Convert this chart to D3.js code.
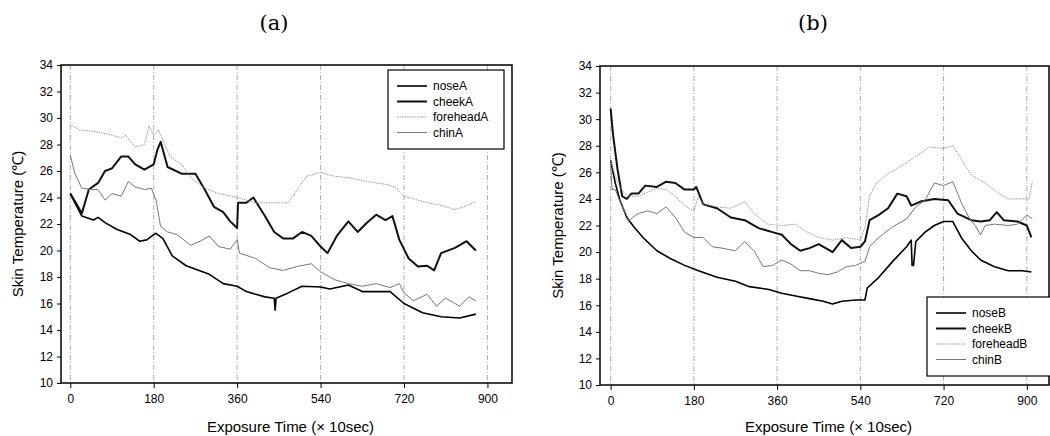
<!DOCTYPE html>
<html>
<head>
<meta charset="utf-8">
<script src="https://cdn.jsdelivr.net/npm/d3@7"></script>
<style>
  body { margin: 0; background: #fff; }
  svg { display: block; }
  text { font-family: "Liberation Sans", Arial, sans-serif; fill: #000; }
</style>
</head>
<body>
<svg id="chart" width="1050" height="436"></svg>
<script>
// ---- data: [time (x10 sec), temperature (C)] ----
var yTicks = [10, 12, 14, 16, 18, 20, 22, 24, 26, 28, 30, 32, 34];
var xTicks = [0, 180, 360, 540, 720, 900];

var noseA = [[0,24.3],[10,23.6],[25,22.6],[50,22.3],[60,22.5],[75,22.1],[100,21.6],[130,21.2],[150,20.7],[165,20.8],[180,21.2],[185,21.3],[200,20.9],[220,19.6],[250,18.85],[300,18.2],[330,17.5],[360,17.3],[380,16.9],[420,16.5],[440,16.4],[442,15.5],[444,16.4],[470,16.8],[500,17.3],[540,17.25],[560,17.1],[600,17.4],[630,16.9],[690,16.9],[720,16.0],[760,15.3],[800,15.0],[840,14.9],[875,15.2]];
var cheekA = [[0,24.3],[12,23.6],[25,22.8],[40,24.6],[60,25.1],[75,26.0],[90,26.2],[110,27.1],[125,27.1],[140,26.5],[160,26.1],[180,26.5],[188,27.6],[195,28.2],[210,26.3],[240,25.8],[270,25.8],[290,24.6],[310,23.3],[330,22.9],[345,22.2],[360,21.7],[362,23.6],[380,23.6],[395,24.0],[420,22.6],[440,21.4],[460,20.9],[480,20.9],[500,21.4],[520,21.1],[540,20.3],[555,19.8],[575,21.1],[600,22.2],[620,21.4],[640,22.1],[660,22.7],[680,22.3],[695,22.6],[710,20.8],[730,19.4],[750,18.8],[770,18.85],[785,18.5],[800,19.8],[830,20.2],[855,20.7],[875,20.0]];
var foreheadA = [[0,29.5],[20,29.1],[50,29.0],[80,28.8],[110,28.5],[120,28.7],[140,27.8],[160,28.0],[170,29.4],[180,28.7],[190,29.1],[200,28.3],[215,27.1],[240,26.5],[260,25.5],[290,24.7],[320,24.3],[360,24.0],[400,23.6],[440,23.6],[470,23.6],[490,24.6],[510,25.6],[540,25.9],[570,25.6],[600,25.5],[640,25.2],[680,25.0],[700,24.8],[720,24.1],[760,23.7],[800,23.4],[830,23.1],[850,23.3],[875,23.7]];
var chinA = [[0,27.2],[10,25.8],[25,24.7],[45,24.6],[60,24.6],[75,23.8],[90,24.3],[110,24.1],[125,25.2],[140,24.8],[160,24.6],[175,24.7],[185,23.8],[195,21.8],[210,21.4],[230,21.2],[260,20.4],[280,20.7],[300,21.1],[320,20.3],[345,20.1],[360,20.8],[365,19.8],[400,19.4],[430,18.7],[460,18.5],[490,18.8],[520,19.0],[540,18.4],[570,17.8],[600,17.5],[630,17.3],[660,17.5],[690,17.2],[710,17.5],[720,16.8],[740,16.2],[770,16.7],[790,15.8],[810,16.4],[840,15.8],[860,16.5],[875,16.2]];

var noseB = [[0,26.9],[10,25.2],[20,23.9],[35,22.6],[50,21.9],[70,21.1],[100,20.1],[130,19.5],[160,19.0],[190,18.6],[230,18.1],[270,17.8],[300,17.4],[340,17.2],[370,16.9],[400,16.7],[430,16.5],[460,16.3],[480,16.1],[500,16.3],[530,16.4],[550,16.4],[555,17.3],[580,18.1],[610,19.3],[640,20.4],[650,20.9],[652,19.0],[655,19.0],[660,20.8],[680,21.5],[700,22.0],[720,22.3],[740,22.3],[760,21.0],[780,20.1],[800,19.4],[830,18.9],[860,18.6],[890,18.6],[910,18.5]];
var cheekB = [[0,30.8],[5,28.9],[15,26.2],[25,24.2],[35,24.0],[45,24.4],[60,24.4],[75,25.0],[100,24.9],[120,25.3],[140,25.2],[160,24.7],[180,24.7],[185,24.9],[200,23.6],[230,23.3],[260,22.6],[290,22.4],[320,21.8],[350,21.5],[370,21.3],[390,20.6],[410,20.1],[430,20.3],[450,20.6],[480,20.0],[500,20.9],[520,20.3],[540,20.4],[550,20.8],[560,22.4],[580,22.8],[600,23.3],[620,24.4],[640,24.2],[650,23.5],[670,23.8],[700,24.0],[730,23.9],[750,22.9],[780,22.4],[800,22.3],[820,22.4],[835,23.0],[850,22.4],[880,22.3],[900,22.0],[910,21.1]];
var foreheadB = [[0,26.9],[10,25.7],[20,24.9],[35,24.2],[60,24.2],[80,24.5],[100,24.8],[120,24.7],[140,24.2],[160,23.5],[180,23.1],[190,24.2],[200,23.6],[230,23.4],[260,23.3],[290,23.8],[310,22.9],[340,22.1],[370,22.0],[400,22.1],[420,21.6],[450,21.1],[480,20.9],[510,21.1],[540,20.9],[550,21.9],[560,24.2],[575,25.2],[600,25.9],[630,26.5],[660,27.2],[690,27.9],[720,27.8],[740,28.0],[760,26.9],[780,25.8],[810,25.2],[840,24.4],[860,24.0],[890,24.0],[905,24.0],[912,25.3]];
var chinB = [[0,26.7],[3,24.7],[10,24.7],[25,23.4],[40,22.4],[60,22.9],[80,23.1],[100,22.9],[120,23.4],[140,22.6],[160,21.5],[180,21.1],[200,21.1],[220,20.4],[240,20.3],[270,20.1],[290,20.8],[310,20.1],[330,18.9],[350,19.0],[370,19.4],[390,19.1],[410,18.6],[430,18.6],[450,18.4],[470,18.3],[490,18.5],[510,18.9],[530,19.0],[550,19.3],[560,20.4],[580,21.1],[610,21.9],[640,22.5],[660,23.4],[680,23.9],[700,25.2],[720,25.0],[740,25.3],[760,23.6],[775,22.6],[790,21.9],[800,21.3],[810,22.0],[830,22.1],[860,22.0],[880,22.1],[900,22.8],[912,22.5]];

var seriesStyle = [
  { stroke: "#000", width: 1.6, dash: null },
  { stroke: "#111", width: 2.0, dash: null },
  { stroke: "#999", width: 1.0, dash: "1.5,1" },
  { stroke: "#777", width: 1.0, dash: null }
];

var svg = d3.select("#chart");

function drawPanel(cfg) {
  var x = d3.scaleLinear().domain(cfg.xDomain).range([cfg.left, cfg.right]);
  var y = d3.scaleLinear().domain([10, 34]).range([cfg.bottom, cfg.top]);
  var g = svg.append("g");

  // vertical dash-dot grid lines
  g.selectAll("line.grid").data(xTicks).enter().append("line")
    .attr("class", "grid")
    .attr("x1", d => x(d)).attr("x2", d => x(d))
    .attr("y1", cfg.top).attr("y2", cfg.bottom)
    .attr("stroke", "#999").attr("stroke-width", 0.8)
    .attr("stroke-dasharray", "5,2,1,2");

  // axes
  g.append("g").attr("transform", `translate(${cfg.left},0)`)
    .call(d3.axisLeft(y).tickValues(yTicks).tickSize(4).tickPadding(4))
    .call(a => a.select(".domain").remove())
    .selectAll("text").style("font-size", "12px");
  g.append("g").attr("transform", `translate(0,${cfg.bottom})`)
    .call(d3.axisBottom(x).tickValues(xTicks).tickSize(5).tickPadding(6))
    .call(a => a.select(".domain").remove())
    .selectAll("text").style("font-size", "12px");

  // frame
  g.append("rect")
    .attr("x", cfg.left).attr("y", cfg.top)
    .attr("width", cfg.right - cfg.left).attr("height", cfg.bottom - cfg.top)
    .attr("fill", "none").attr("stroke", "#000").attr("stroke-width", 1.5);

  // lines
  var line = d3.line().x(d => x(d[0])).y(d => y(d[1]));
  cfg.series.forEach(function (s, i) {
    var st = seriesStyle[i];
    g.append("path").datum(s.values)
      .attr("d", line)
      .attr("fill", "none")
      .attr("stroke", st.stroke)
      .attr("stroke-width", st.width)
      .attr("stroke-dasharray", st.dash)
      .attr("stroke-linejoin", "round");
  });

  // legend
  var lg = g.append("g").attr("transform", `translate(${cfg.legend.x},${cfg.legend.y})`);
  lg.append("rect")
    .attr("width", cfg.legend.w).attr("height", cfg.legend.h)
    .attr("fill", "#fff").attr("stroke", "#000").attr("stroke-width", 1.2);
  cfg.series.forEach(function (s, i) {
    var st = seriesStyle[i];
    var ly = 16 + i * 15.5;
    lg.append("line")
      .attr("x1", 9).attr("x2", 39).attr("y1", ly).attr("y2", ly)
      .attr("stroke", st.stroke).attr("stroke-width", st.width)
      .attr("stroke-dasharray", st.dash);
    lg.append("text").attr("x", 45).attr("y", ly + 4)
      .style("font-size", "12px").text(s.name);
  });

  // titles
  svg.append("text").attr("x", cfg.titleX).attr("y", 30)
    .attr("text-anchor", "middle")
    .style("font-family", "'DejaVu Serif', 'Liberation Serif', serif")
    .style("font-size", "21px").text(cfg.title);
  svg.append("text").attr("x", (cfg.left + cfg.right) / 2 + 4).attr("y", 432)
    .attr("text-anchor", "middle").style("font-size", "15px")
    .text("Exposure Time (× 10sec)");
  svg.append("text")
    .attr("transform", `translate(${cfg.yTitleX},${(cfg.top + cfg.bottom) / 2}) rotate(-90)`)
    .attr("text-anchor", "middle").style("font-size", "15px")
    .text("Skin  Temperature (℃)");
}

drawPanel({
  title: "(a)", titleX: 274, yTitleX: 23,
  left: 61, right: 512, top: 65, bottom: 383, xDomain: [-20, 953],
  legend: { x: 388, y: 70, w: 116, h: 79 },
  series: [
    { name: "noseA", values: noseA },
    { name: "cheekA", values: cheekA },
    { name: "foreheadA", values: foreheadA },
    { name: "chinA", values: chinA }
  ]
});

drawPanel({
  title: "(b)", titleX: 813, yTitleX: 563,
  left: 600, right: 1049, top: 66, bottom: 385, xDomain: [-23, 948],
  legend: { x: 927, y: 297, w: 130, h: 79 },
  series: [
    { name: "noseB", values: noseB },
    { name: "cheekB", values: cheekB },
    { name: "foreheadB", values: foreheadB },
    { name: "chinB", values: chinB }
  ]
});
</script>
</body>
</html>
